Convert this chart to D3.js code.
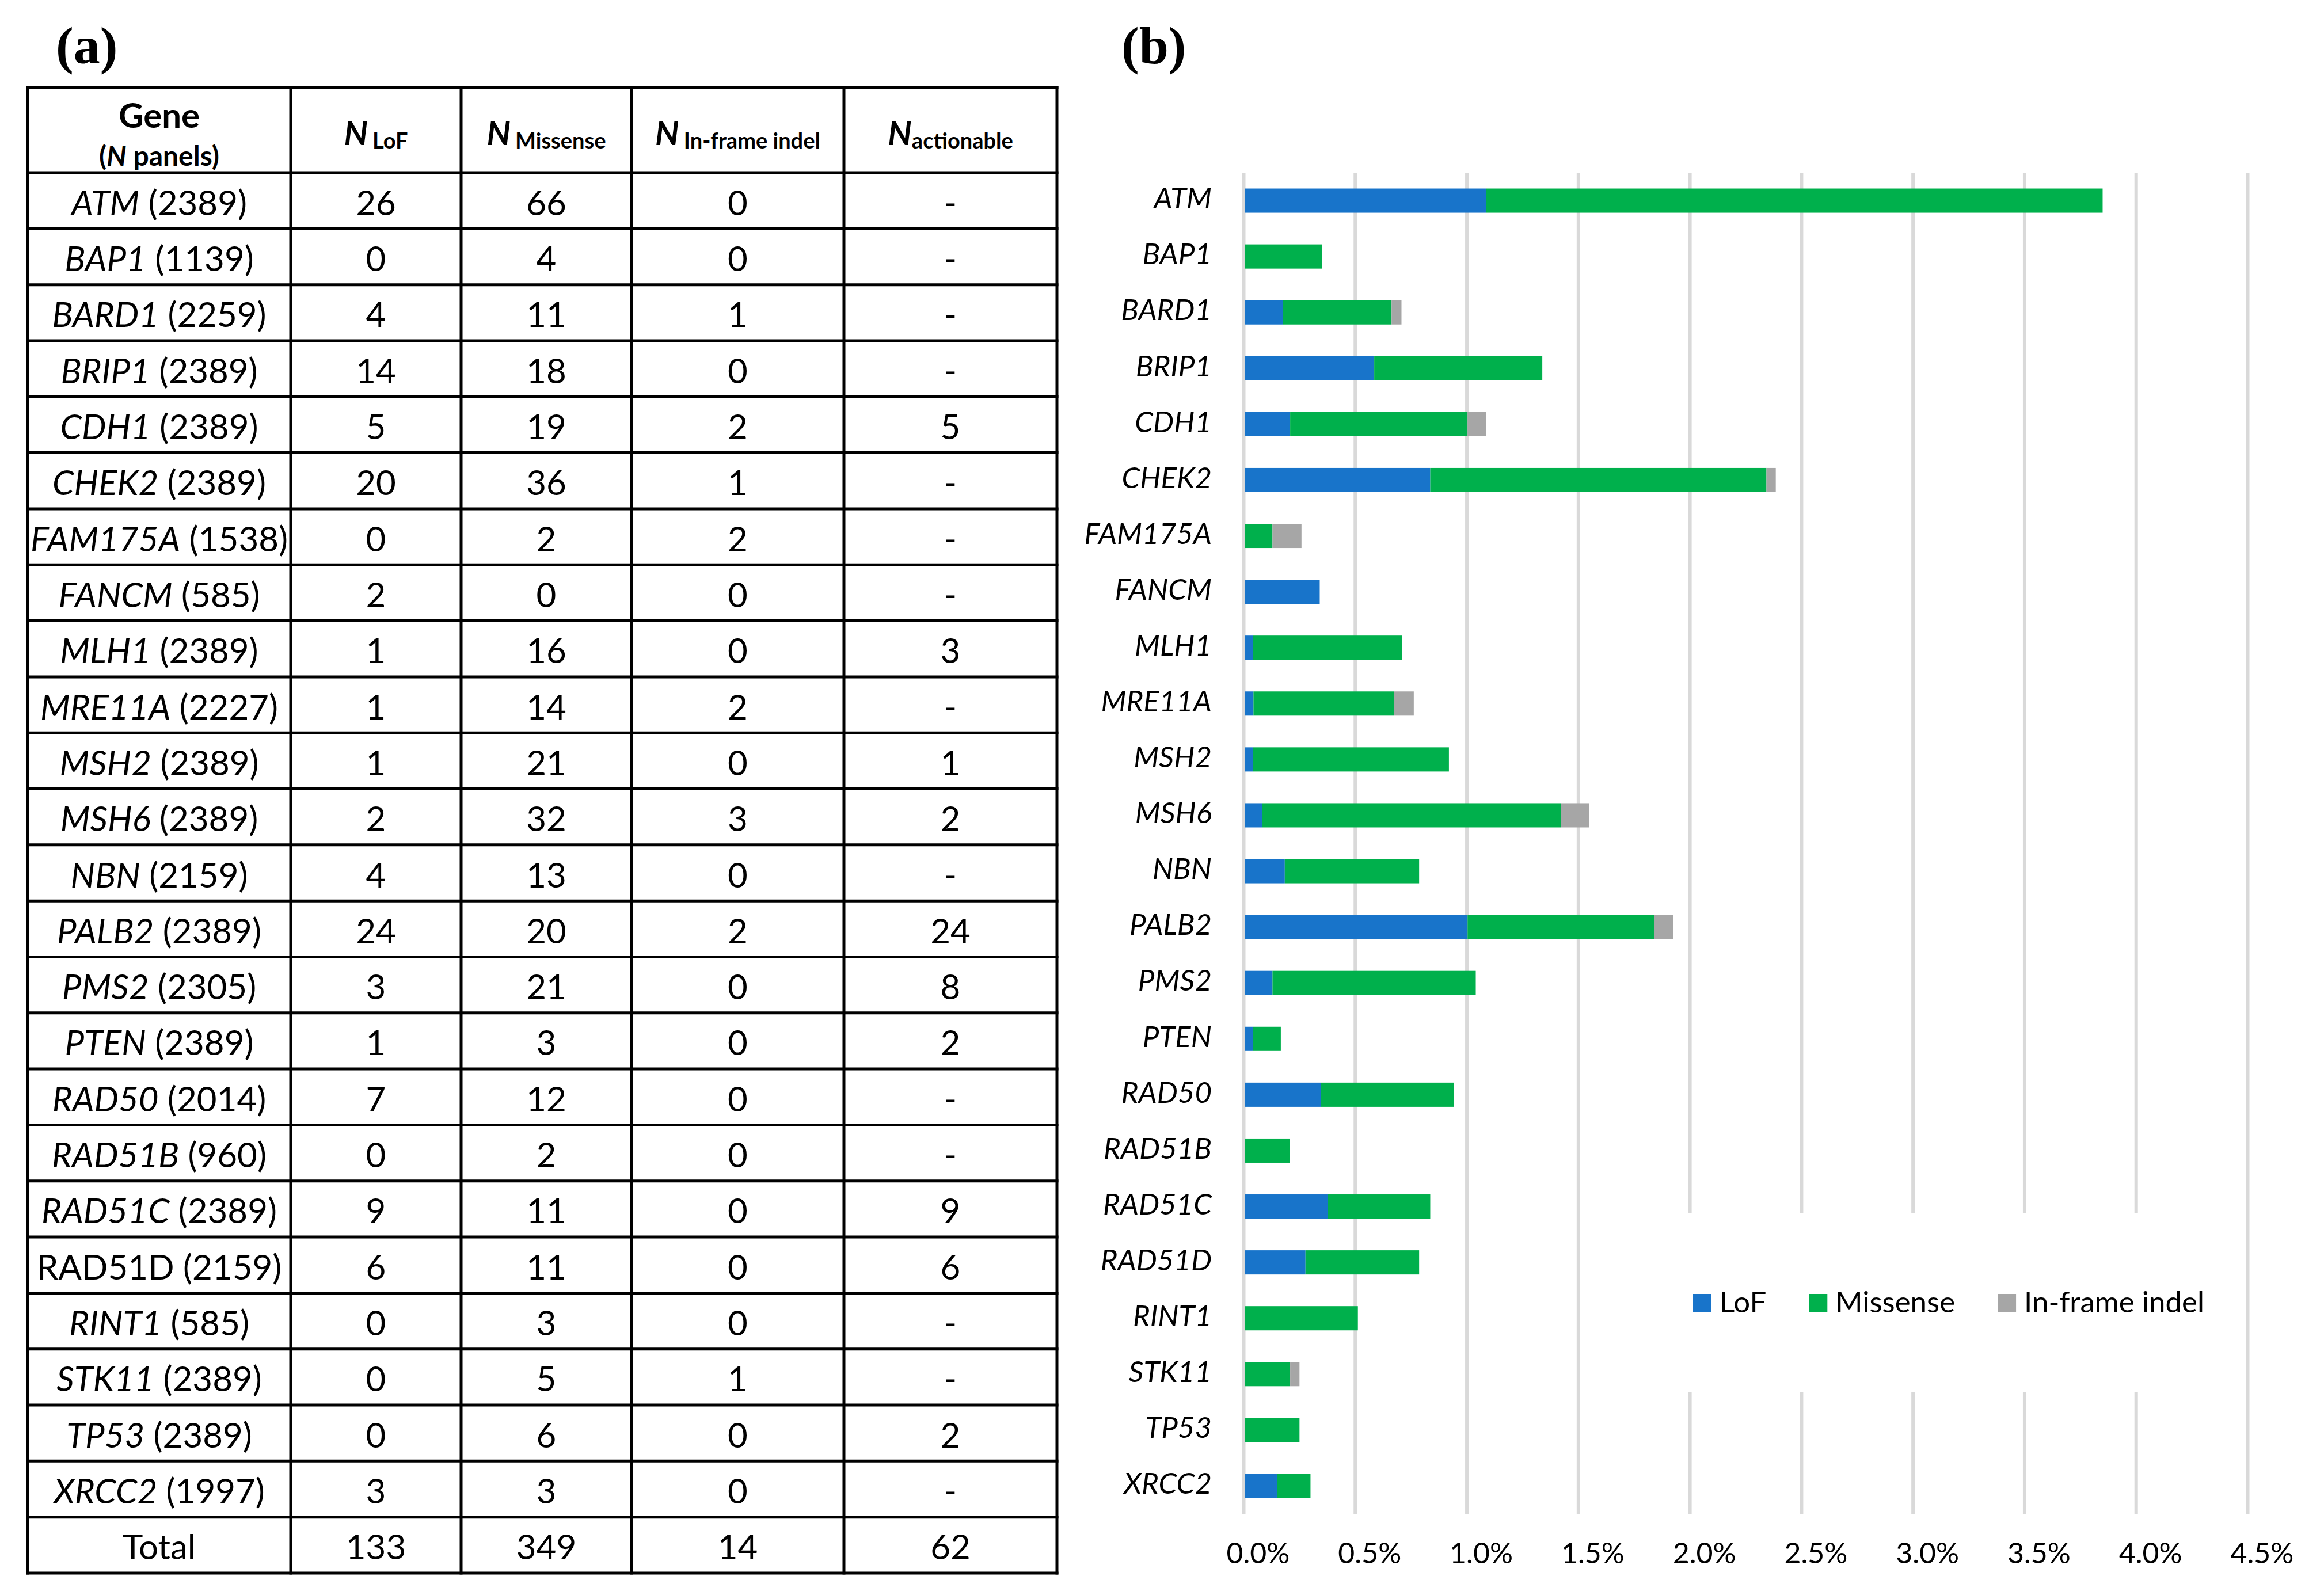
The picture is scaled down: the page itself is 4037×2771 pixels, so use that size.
<!DOCTYPE html>
<html>
<head>
<meta charset="utf-8">
<script src="https://cdn.jsdelivr.net/npm/d3@7"></script>
<style>
body { margin: 0; background: #fff; }
svg { display: block; }
text { font-family: Lato, 'Open Sans', sans-serif; fill: #000; }
</style>
</head>
<body>
<div id="fig"></div>
<script>
// table / chart data
const genes = ['ATM', 'BAP1', 'BARD1', 'BRIP1', 'CDH1', 'CHEK2', 'FAM175A', 'FANCM', 'MLH1', 'MRE11A',
    'MSH2', 'MSH6', 'NBN', 'PALB2', 'PMS2', 'PTEN', 'RAD50', 'RAD51B', 'RAD51C', 'RAD51D',
    'RINT1', 'STK11', 'TP53', 'XRCC2'];
const panels = [2389, 1139, 2259, 2389, 2389, 2389, 1538, 585, 2389, 2227,
    2389, 2389, 2159, 2389, 2305, 2389, 2014, 960, 2389, 2159,
    585, 2389, 2389, 1997];
const lof = [26, 0, 4, 14, 5, 20, 0, 2, 1, 1, 1, 2, 4, 24, 3, 1, 7, 0, 9, 6, 0, 0, 0, 3];
const missense = [66, 4, 11, 18, 19, 36, 2, 0, 16, 14, 21, 32, 13, 20, 21, 3, 12, 2, 11, 11, 3, 5, 6, 3];
const indel = [0, 0, 1, 0, 2, 1, 2, 0, 0, 2, 0, 3, 0, 2, 0, 0, 0, 0, 0, 0, 0, 1, 0, 0];
const actionable = [null, null, null, null, 5, null, null, null, 3, null, 1, 2, null, 24, 8, 2, null, null, 9, 6, null, null, 2, null];
const totals = [133, 349, 14, 62];
const uprightGenes = ['RAD51D'];   // written without italics in the table

const seriesKeys = ['LoF', 'Missense', 'In-frame indel'];
const seriesColors = ['#1874CA', '#00B04C', '#A6A6A6'];
const xTicks = [0, 0.005, 0.01, 0.015, 0.02, 0.025, 0.03, 0.035, 0.04, 0.045];

const W = 4037, H = 2771;
const svg = d3.select('#fig').append('svg')
    .attr('width', W)
    .attr('height', H);
svg.append('rect').attr('width', W).attr('height', H).attr('fill', '#fff');

// panel letters
svg.append('text').attr('x', 97).attr('y', 110)
    .style('font-family', "'Liberation Serif', serif").style('font-weight', 'bold').style('font-size', '92px')
    .text('(a)');
svg.append('text').attr('x', 1948).attr('y', 110)
    .style('font-family', "'Liberation Serif', serif").style('font-weight', 'bold').style('font-size', '92px')
    .text('(b)');

// ---------- (a) table ----------
const colX = [48, 505, 801, 1097, 1466, 1836];
const tTop = 152, hBot = 300, tBot = 2733;
const rowY = d3.scaleBand().domain(d3.range(genes.length + 1)).range([hBot, tBot]);
const colMid = i => (colX[i] + colX[i + 1]) / 2;

const table = svg.append('g');

// header
table.append('text').attr('x', colMid(0)).attr('y', 222)
    .attr('text-anchor', 'middle')
    .style('font-weight', 'bold').style('font-size', '60px')
    .text('Gene');
let np = table.append('text').attr('x', colMid(0)).attr('y', 288)
    .attr('text-anchor', 'middle')
    .style('font-weight', 'bold').style('font-size', '48px');
np.append('tspan').text('(');
np.append('tspan').style('font-style', 'italic').text('N');
np.append('tspan').text(' panels)');

const heads = [
    {sub: 'LoF', gap: 8},
    {sub: 'Missense', gap: 8},
    {sub: 'In-frame indel', gap: 8},
    {sub: 'actionable', gap: 0},
];
heads.forEach((h, i) => {
    let t = table.append('text')
        .attr('x', colMid(i + 1)).attr('y', 252)
        .attr('text-anchor', 'middle')
        .style('font-weight', 'bold');
    t.append('tspan').style('font-style', 'italic').style('font-size', '58px').text('N');
    t.append('tspan').attr('dx', h.gap).attr('dy', 6).style('font-size', '38px').text(h.sub);
});

// body rows
const tableRows = genes.map((g, i) => ({
    gene: g,
    panels: panels[i],
    cells: [lof[i], missense[i], indel[i], actionable[i] == null ? '-' : actionable[i]]
}));
tableRows.push({gene: null, cells: totals});

const tr = table.selectAll('g.row')
    .data(tableRows)
    .enter()
    .append('g')
    .attr('class', 'row')
    .attr('transform', (d, i) => 'translate(0,' + (rowY(i) + rowY.bandwidth() / 2 + 25) + ')');

tr.each(function (d) {
    let g = d3.select(this);
    let t = g.append('text').attr('x', colMid(0)).attr('text-anchor', 'middle').style('font-size', '60px');
    if (d.gene == null) {
        t.text('Total');
    } else {
        t.append('tspan')
            .style('font-style', uprightGenes.includes(d.gene) ? 'normal' : 'italic')
            .text(d.gene);
        t.append('tspan').text(' (' + d.panels + ')');
    }
    g.selectAll('text.cell')
        .data(d.cells)
        .enter()
        .append('text')
        .attr('class', 'cell')
        .attr('x', (c, j) => colMid(j + 1))
        .attr('text-anchor', 'middle')
        .style('font-size', '60px')
        .text(c => c);
});

// grid lines of the table
const hLines = [tTop, hBot].concat(d3.range(genes.length + 1).map(i => rowY(i) + rowY.bandwidth()));
table.selectAll('line.h')
    .data(hLines)
    .enter()
    .append('line')
    .attr('x1', colX[0]).attr('x2', colX[colX.length - 1])
    .attr('y1', d => d).attr('y2', d => d)
    .attr('stroke', '#000').attr('stroke-width', 5).attr('stroke-linecap', 'square');
table.selectAll('line.v')
    .data(colX)
    .enter()
    .append('line')
    .attr('x1', d => d).attr('x2', d => d)
    .attr('y1', tTop).attr('y2', tBot)
    .attr('stroke', '#000').attr('stroke-width', 5).attr('stroke-linecap', 'square');

// ---------- (b) stacked bar chart ----------
const plotTop = 300, plotBot = 2630;
const x = d3.scaleLinear().domain([0, 0.045]).range([2160, 3904]);
const y = d3.scaleBand().domain(genes).range([plotTop, plotBot]).paddingInner(0.567).paddingOuter(0.2835);

const chart = svg.append('g');

// vertical gridlines
chart.append('g')
    .attr('transform', 'translate(0,' + plotBot + ')')
    .call(d3.axisBottom(x).tickValues(xTicks).tickSize(-(plotBot - plotTop)).tickFormat(''))
    .call(g => g.select('.domain').remove())
    .call(g => g.selectAll('line').attr('stroke', '#D9D9D9').attr('stroke-width', 6));

// bars
const barRows = genes.map((g, i) => ({
    gene: g,
    'LoF': lof[i] / panels[i],
    'Missense': missense[i] / panels[i],
    'In-frame indel': indel[i] / panels[i]
}));
const stacked = d3.stack().keys(seriesKeys)(barRows);

chart.selectAll('g.series')
    .data(stacked)
    .enter()
    .append('g')
    .attr('class', 'series')
    .attr('fill', (d, i) => seriesColors[i])
    .selectAll('rect')
    .data(d => d.filter(v => v[1] > v[0]))
    .enter()
    .append('rect')
    .attr('x', d => x(d[0]) + (d[0] === 0 ? 3 : 0))
    .attr('y', d => y(d.data.gene))
    .attr('width', d => x(d[1]) - x(d[0]) - (d[0] === 0 ? 3 : 0))
    .attr('height', y.bandwidth());

// x tick labels
chart.append('g')
    .attr('transform', 'translate(0,' + plotBot + ')')
    .call(d3.axisBottom(x).tickValues(xTicks).tickSize(0).tickPadding(50).tickFormat(d3.format('.1%')))
    .call(g => g.select('.domain').remove())
    .call(g => g.selectAll('text')
        .attr('dx', 25)
        .style('font-family', "Lato, 'Open Sans', sans-serif")
        .style('font-size', '50px')
        .attr('fill', '#000'));

// gene labels
chart.append('g')
    .attr('transform', 'translate(' + x(0) + ',0)')
    .call(d3.axisLeft(y).tickSize(0).tickPadding(55))
    .call(g => g.select('.domain').remove())
    .call(g => g.selectAll('text')
        .attr('dy', '0.27em')
        .style('font-family', "Lato, 'Open Sans', sans-serif")
        .style('font-style', 'italic')
        .style('font-size', '51px')
        .attr('fill', '#000'));

// legend
const legend = chart.append('g');
legend.append('rect')
    .attr('x', 2890).attr('y', 2107)
    .attr('width', 995).attr('height', 312)
    .attr('fill', '#fff');
let lx = 2941;
seriesKeys.forEach((k, i) => {
    legend.append('rect')
        .attr('x', lx).attr('y', 2248)
        .attr('width', 32).attr('height', 32)
        .attr('fill', seriesColors[i]);
    let t = legend.append('text')
        .attr('x', lx + 46).attr('y', 2280)
        .style('font-size', '51px')
        .text(k);
    lx = lx + 46 + t.node().getComputedTextLength() + 74;
});
</script>
</body>
</html>
